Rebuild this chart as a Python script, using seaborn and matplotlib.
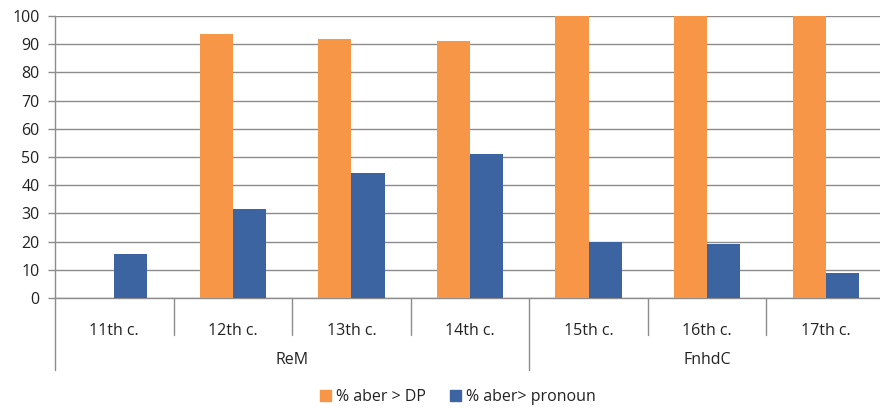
import pandas as pd
import matplotlib
matplotlib.use("Agg")
import matplotlib.pyplot as plt
import seaborn as sns

# dados
centuries = ["11th c.", "12th c.", "13th c.", "14th c.", "15th c.", "16th c.", "17th c."]
corpus = ["ReM", "ReM", "ReM", "ReM", "FnhdC", "FnhdC", "FnhdC"]
aber_dp = [0, 93.5, 92, 91, 100, 100, 100]
aber_pronoun = [15.5, 31.5, 44.5, 51, 20, 19, 9]
series_names = ["% aber > DP", "% aber> pronoun"]

df = pd.concat([
    pd.DataFrame({"Century": centuries, "Value": aber_dp, "Series": series_names[0]}),
    pd.DataFrame({"Century": centuries, "Value": aber_pronoun, "Series": series_names[1]}),
])

sns.set_theme(style="white")
plt.rcParams['font.family'] = ['Open Sans', 'DejaVu Sans']

cores = {series_names[0]: "#F79646", series_names[1]: "#3C64A0"}
grid_col = "#8C8C8C"
txt_col = "#222222"
fs = 11.5

fig = plt.figure(figsize=(8.8, 4.08), dpi=100)
ax = fig.add_axes([55 / 880, 110 / 408, 830 / 880, 282 / 408])

sns.barplot(data=df, x="Century", y="Value", hue="Series", order=centuries,
            palette=cores, width=0.56, linewidth=0, saturation=1, ax=ax, zorder=3)

ax.set_ylim(0, 100)
ax.set_xlim(-0.5, len(centuries) - 0.5)
ax.set_yticks(range(0, 101, 10))
ax.yaxis.grid(True, color=grid_col, linewidth=1, zorder=0)
ax.set_axisbelow(True)
ax.set_xlabel("")
ax.set_ylabel("")
for s in ["top", "right"]:
    ax.spines[s].set_visible(False)
for s in ["left", "bottom"]:
    ax.spines[s].set_color(grid_col)
    ax.spines[s].set_linewidth(1)
ax.tick_params(axis="y", left=True, length=5, color=grid_col, width=1,
               labelsize=fs, labelcolor=txt_col, pad=6)
ax.tick_params(axis="x", bottom=False, length=0, labelsize=fs, labelcolor=txt_col, pad=18)

# linhas separadoras do eixo x (categorias e grupos)
trans = ax.get_xaxis_transform()
for i in range(len(centuries) + 1):
    xb = i - 0.5
    is_group = i == 0 or i == len(centuries) or corpus[i] != corpus[i - 1]
    y_end = -72 / 282 if is_group else -37 / 282
    ax.plot([xb, xb], [0, y_end], transform=trans, color=grid_col, lw=1, clip_on=False)

# rótulos dos grupos
for g in dict.fromkeys(corpus):
    idx = [i for i, c in enumerate(corpus) if c == g]
    xc = (idx[0] + idx[-1]) / 2
    ax.text(xc, -62 / 282, g, transform=trans, ha="center", va="center",
            fontsize=fs, color=txt_col)

ax.get_legend().remove()
handles = [plt.Rectangle((0, 0), 1, 1, color=cores[n]) for n in series_names]
fig.legend(handles, series_names, loc="center", bbox_to_anchor=(0.52, 11 / 408), ncol=2,
           frameon=False, handlelength=0.7, handleheight=0.7, handletextpad=0.3,
           columnspacing=1.5, fontsize=fs, labelcolor=txt_col)

plt.savefig("out.png", dpi=100)
